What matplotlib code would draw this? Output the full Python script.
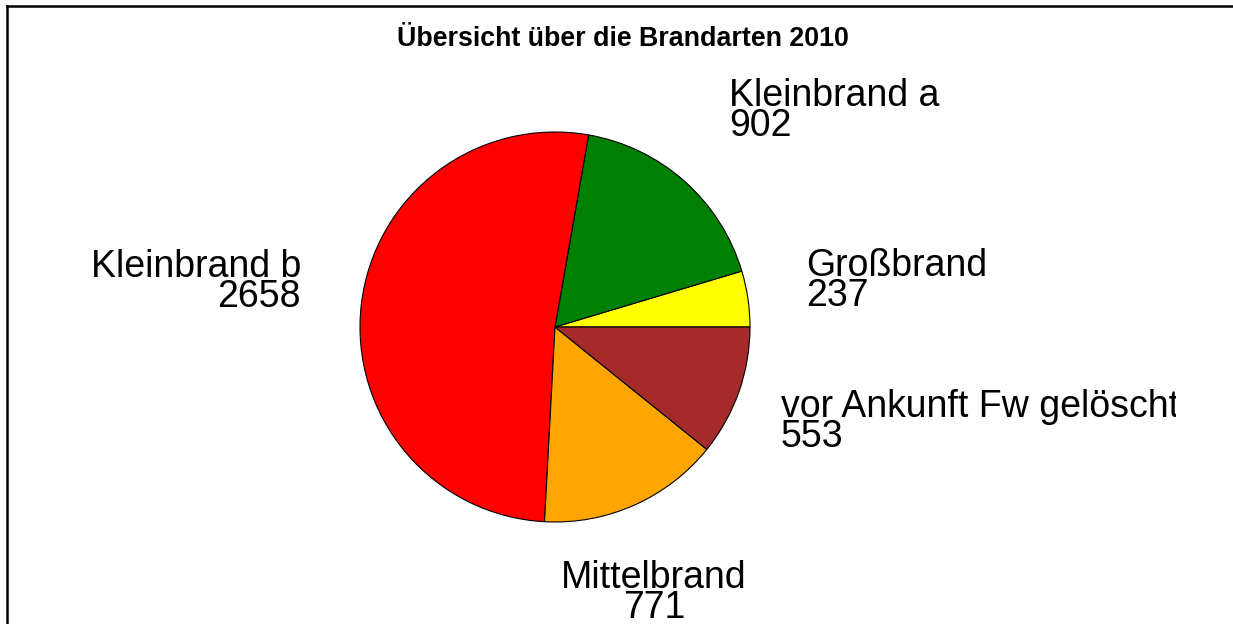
import matplotlib
matplotlib.use('Agg')
import matplotlib.pyplot as plt
from matplotlib.transforms import Bbox

# data
categories = ['Großbrand', 'Kleinbrand a', 'Kleinbrand b', 'Mittelbrand', 'vor Ankunft Fw gelöscht']
counts = [237, 902, 2658, 771, 553]
colors = ['#FFFF00', '#008000', '#FF0000', '#FFA500', '#A52A2A']
title = 'Übersicht über die Brandarten 2010'

# layout (pixel coords, y downwards): label anchor (last-line baseline), alignment
label_pos = [(806, 306), (729, 136), (301, 307), (654, 618), (781, 447)]
label_ha = ['left', 'left', 'right', 'center', 'left']

plt.rcParams['font.family'] = ['Liberation Sans', 'DejaVu Sans']

W, H = 1233, 624
fig = plt.figure(figsize=(W / 100, H / 100), dpi=100)
ax = fig.add_axes([0, 0, 1, 1])

# y axis inverted -> counterclock=False draws counter-clockwise on screen
ax.pie(counts, colors=colors, center=(555, 327), radius=195, startangle=0,
       counterclock=False, frame=True,
       wedgeprops=dict(edgecolor='black', linewidth=0.8))
ax.set_xlim(0, W)
ax.set_ylim(H, 0)
ax.set_aspect('auto')
ax.axis('off')

clip = Bbox([[7, 0], [1176, H - 6]])
for name, val, (x, y), ha in zip(categories, counts, label_pos, label_ha):
    t = ax.text(x, y, f'{name}\n{val}', fontsize=27, ha=ha, va='baseline',
                linespacing=0.8, multialignment=ha)
    t.set_clip_box(clip)
    t.set_clip_on(True)

ax.text(623, 46, title, fontsize=19.3, fontweight='bold', ha='center', va='baseline')

# outer frame (only top and left edges visible)
ax.plot([7, 7], [H + 5, 6], color='black', lw=1.8, clip_on=False, solid_capstyle='projecting')
ax.plot([7, W + 5], [6, 6], color='black', lw=1.8, clip_on=False, solid_capstyle='projecting')

fig.savefig('out.png', dpi=100)
